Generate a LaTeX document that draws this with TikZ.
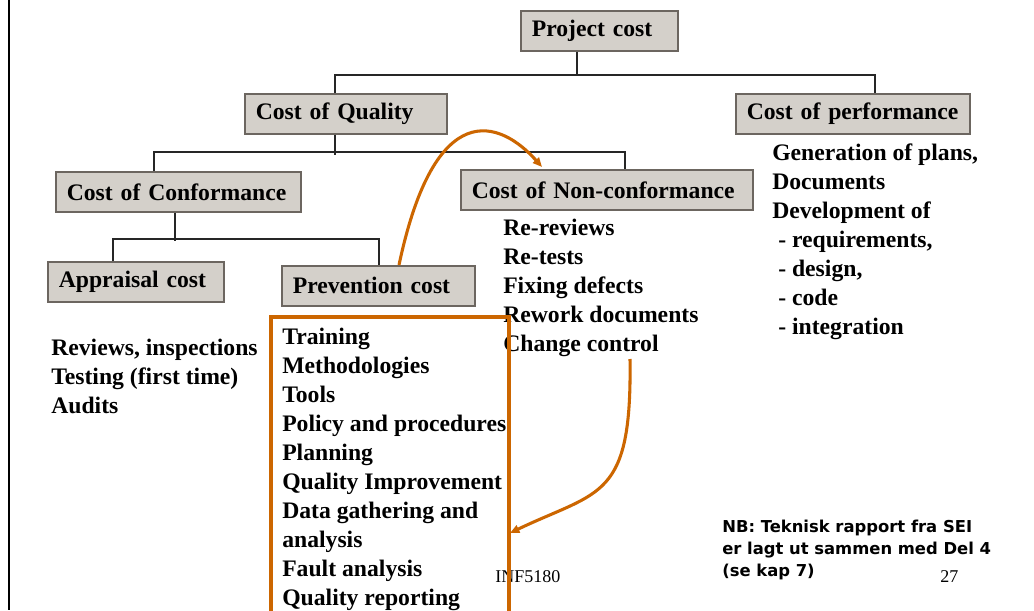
\documentclass[tikz,border=0pt]{standalone}
\usepackage{fontspec}
\setmainfont{Liberation Serif}
\newfontfamily\notefont{DejaVu Sans}
\usetikzlibrary{calc,arrows.meta}

\definecolor{boxfill}{RGB}{212,208,202}
\definecolor{boxline}{RGB}{108,102,96}
\definecolor{hiorange}{RGB}{204,102,0}

\tikzset{
  costbox/.style={draw=boxline, line width=1.2pt, fill=boxfill, anchor=north west,
    align=left, inner xsep=8.25pt, inner ysep=0pt, minimum height=30pt,
    font=\fontsize{17.75}{21.75}\selectfont\bfseries},
  % anchored on the baseline of the last line
  costlist/.style={anchor=base west, align=left, inner sep=0pt,
    font=\fontsize{17.75}{21.75}\selectfont\bfseries},
  tree/.style={line width=1.2pt, draw=black!85},
  hilite/.style={draw=hiorange, line width=2.3pt},
  hiarrow/.style={hilite, -{Triangle[length=7pt,width=6pt]}, fill=none},
}

\begin{document}
\begin{tikzpicture}[x=0.75pt,y=-0.75pt]
\useasboundingbox (0,0) rectangle (1034,610);
\fill[white] (0,0) rectangle (1034,610);
\draw[line width=2pt] (9,0) -- (9,610);

% cost boxes
\node[costbox, text width=101.25pt] (project) at (520,10) {Project cost};
\node[costbox, text width=135pt] (quality) at (244,93) {Cost of Quality};
\node[costbox, text width=159pt] (perform) at (735,93) {Cost of performance};
\node[costbox, text width=167.25pt] (conform) at (55,171) {Cost of Conformance};
\node[costbox, text width=202.5pt] (nonconf) at (460,169) {Cost of Non-conformance};
\node[costbox, text width=115.5pt] (apprais) at (47,261) {Appraisal cost};
\node[costbox, text width=128.25pt] (prevent) at (281,265) {Prevention cost};

% tree lines
\draw[tree] ($(project.south west)+(57,0)$) -- ++(0,24);
\draw[tree] ($(quality.north west)+(91,0)$) -- ++(0,-18) -| ($(perform.north west)+(140,0)$);
\draw[tree] ($(quality.south west)+(91,0)$) -- ++(0,20);
\draw[tree] ($(conform.north west)+(99,0)$) -- ++(0,-19) -| ($(nonconf.north west)+(165,0)$);
\draw[tree] ($(conform.south west)+(120,0)$) -- ++(0,28);
\draw[tree] ($(apprais.north west)+(66,0)$) -- ++(0,-22) -| ($(prevent.north west)+(98,0)$);

% what goes into each cost
\node[costlist] (apprlist) at (51,413) {Reviews, inspections\\Testing (first time)\\Audits};
\node[costlist] (prevlist) at (282,605) {Training\\Methodologies\\Tools\\Policy and procedures\\Planning\\Quality Improvement\\Data gathering and\\analysis\\Fault analysis\\Quality reporting};
\node[costlist] (nonclist) at (503,351) {Re-reviews\\Re-tests\\Fixing defects\\Rework documents\\Change control};
\node[costlist] (perflist) at (772,334) {Generation of plans,\\Documents\\Development of\\\hspace*{4.5pt}- requirements,\\\hspace*{4.5pt}- design,\\\hspace*{4.5pt}- code\\\hspace*{4.5pt}- integration};

\node[anchor=base west, inner sep=0pt, font=\fontsize{13.5}{16}\selectfont] (course) at (495,582) {INF5180};
\node[anchor=base west, inner sep=0pt, font=\fontsize{13.5}{16}\selectfont] (pageno) at (940,582) {27};
\node[anchor=base west, inner sep=0pt, align=left, font=\notefont\bfseries\fontsize{12.3}{16.5}\selectfont] (note) at (722,576) {NB: Teknisk rapport fra SEI\\er lagt ut sammen med Del 4\\(se kap 7)};

% orange frame and arrows
\draw[hilite] (271,620) -- (271,317) -- (509,317) -- (509,620);
\coordinate (ctrl) at (630,359);
\coordinate (boxedge) at (510,533);
\draw[hiarrow] ($(prevent.north west)+(118,0)$) .. controls (435,95) and (500,120) .. ($(nonconf.north west)+(82,-2)$);
\draw[hiarrow] (ctrl) .. controls (632,500) and (600,490) .. (boxedge);
\end{tikzpicture}
\end{document}
